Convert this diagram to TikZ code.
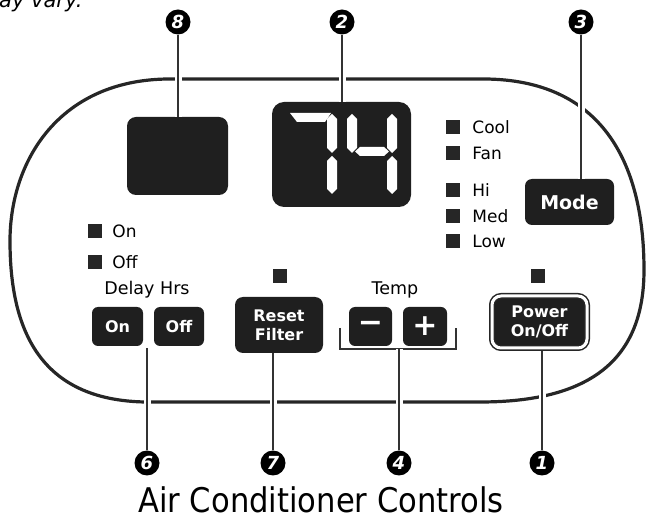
\documentclass[tikz,border=0pt]{standalone}
\usepackage{fontspec}
\setmainfont{DejaVu Sans}
\newfontfamily\titlefont[FakeStretch=0.9]{DejaVu Sans}
\usetikzlibrary{positioning, calc}
\tikzstyle{panel} = [line width=3.2pt, black!85]
\tikzstyle{callout} = [circle, fill=black, text=white, minimum size=25pt, inner sep=0pt, font=\fontsize{18}{18}\selectfont\bfseries\itshape]
\tikzstyle{screen} = [rectangle, fill=black!88, inner sep=0pt]
\tikzstyle{button} = [rectangle, rounded corners=6pt, fill=black!88, text=white, inner sep=0pt, align=center, font=\fontsize{16}{19}\selectfont\bfseries]
\tikzstyle{led} = [rectangle, fill=black!85, minimum size=14pt, inner sep=0pt]
\tikzstyle{ledlabel} = [inner sep=0pt, text height=12.4pt, text depth=0pt, font=\fontsize{17}{17}\selectfont]
\tikzstyle{caption} = [inner sep=0pt, anchor=base, font=\fontsize{17.5}{17.5}\selectfont]
\tikzstyle{leader} = [line width=1.3pt, black!80, preaction={draw=white, line width=7pt}]
\newcommand{\vseg}[3]{\fill[white] (#1,#2) -- (#1+5,#2+5) -- (#1+5,#3-5) -- (#1,#3) -- (#1-5,#3-5) -- (#1-5,#2+5) -- cycle;}
\newcommand{\hseg}[3]{\fill[white] (#1,#3) -- (#1+5,#3-4.5) -- (#2-5,#3-4.5) -- (#2,#3) -- (#2-5,#3+4.5) -- (#1+5,#3+4.5) -- cycle;}
\begin{document}
\begin{tikzpicture}[x=1pt, y=-1pt]
\useasboundingbox (0,0) rectangle (646,521);

% Panel outline
\draw [panel] (168,79) -- (485,79) .. controls (600,80) and (644,160) .. (644,270) .. controls (644,360) and (590,402) .. (480,402) -- (145,402) .. controls (40,400) and (10,330) .. (10,241) .. controls (10,160) and (60,80) .. (168,79) -- cycle;

% Displays
\node (clock) [screen, rounded corners=9pt, minimum width=101pt, minimum height=78pt] at (177.5,156) {};
\node (temp) [screen, rounded corners=12pt, minimum width=139pt, minimum height=105pt] at (341.5,154.5) {};
\fill[white] (290,113) -- (331,113) -- (325,122) -- (297,122) -- cycle;
\vseg{332}{114}{153}
\vseg{332}{156}{194}
\vseg{352}{114}{153}
\hseg{355}{389}{151.5}
\vseg{392}{114}{153}
\vseg{392}{156}{194}

% Mode and indicators
\node (mode) [button, rounded corners=7pt, minimum width=89pt, minimum height=46pt, font=\fontsize{19}{19}\selectfont\bfseries] at (569.5,202) {Mode};
\node (cool) [led] at (453,127) {};
\node (fan) [led] at (453,153) {};
\node (hi) [led] at (453,190) {};
\node (med) [led] at (453,216) {};
\node (low) [led] at (453,241) {};
\node (coollbl) [ledlabel, right=12pt of cool] {Cool};
\node (fanlbl) [ledlabel, right=12pt of fan] {Fan};
\node (hilbl) [ledlabel, right=12pt of hi] {Hi};
\node (medlbl) [ledlabel, right=12pt of med] {Med};
\node (lowlbl) [ledlabel, right=12pt of low] {Low};

% Delay
\node (delayon) [led] at (95,231) {};
\node (delayoff) [led] at (95,262) {};
\node (delayonlbl) [ledlabel, right=10pt of delayon] {On};
\node (delayofflbl) [ledlabel, right=10pt of delayoff] {Off};
\node (delaycap) [caption] at (147,295) {Delay Hrs};
\node (delayonbtn) [button, minimum width=51pt, minimum height=39pt] at (117.5,326.5) {On};
\node (delayoffbtn) [button, minimum width=50pt, minimum height=39pt] at (179,326.5) {Off};
\coordinate (delayhook) at (147,348);

% Reset filter
\node (resetled) [led] at (280,276) {};
\node (reset) [button, rounded corners=8pt, minimum width=88pt, minimum height=56pt] at (279,325) {Reset\\Filter};

% Temp
\node (tempcap) [caption] at (395,295) {Temp};
\node (minus) [button, minimum width=43pt, minimum height=39pt, font=\fontsize{30}{30}\selectfont\bfseries] at (370.5,326.5) {−};
\node (plus) [button, minimum width=44pt, minimum height=39pt, font=\fontsize{30}{30}\selectfont\bfseries] at (425,326.5) {+};
\coordinate (tempmid) at (399,349);
\draw [line width=1.1pt, black!80] (340,328) |- (tempmid) -| (456,328);

% Power
\node (powerled) [led] at (538,276) {};
\node (power) [button, draw=black!85, line width=1.5pt, double=white, double distance=3pt, rounded corners=9pt, outer sep=3pt, minimum width=95pt, minimum height=52pt] at (539.5,322) {Power\\On/Off};

% Callouts
\node (c8) [callout] at (178,22) {8};
\node (c2) [callout] at (342,22) {2};
\node (c3) [callout] at (581,22) {3};
\node (c6) [callout] at (147,463) {6};
\node (c7) [callout] at (273,463) {7};
\node (c4) [callout] at (399,463) {4};
\node (c1) [callout] at (542,463) {1};

\draw [leader] (c8) -- (c8 |- clock.north);
\draw [leader] (c2) -- (c2 |- temp.north);
\draw [leader] (c3) -- (c3 |- mode.north);
\draw [leader] (c6) -- (delayhook);
\draw [leader] (c7) -- (c7 |- reset.south);
\draw [leader] (c4) -- (tempmid);
\draw [leader] (c1) -- (c1 |- power.south);

% Labels
\node (note) [anchor=base west, inner sep=0pt, font=\fontsize{21}{21}\selectfont\itshape] at (-1,8) {ay vary.};
\node (title) [anchor=base, inner sep=0pt, font=\titlefont\fontsize{34}{34}\selectfont] at (321,513) {Air Conditioner Controls};

\end{tikzpicture}
\end{document}
